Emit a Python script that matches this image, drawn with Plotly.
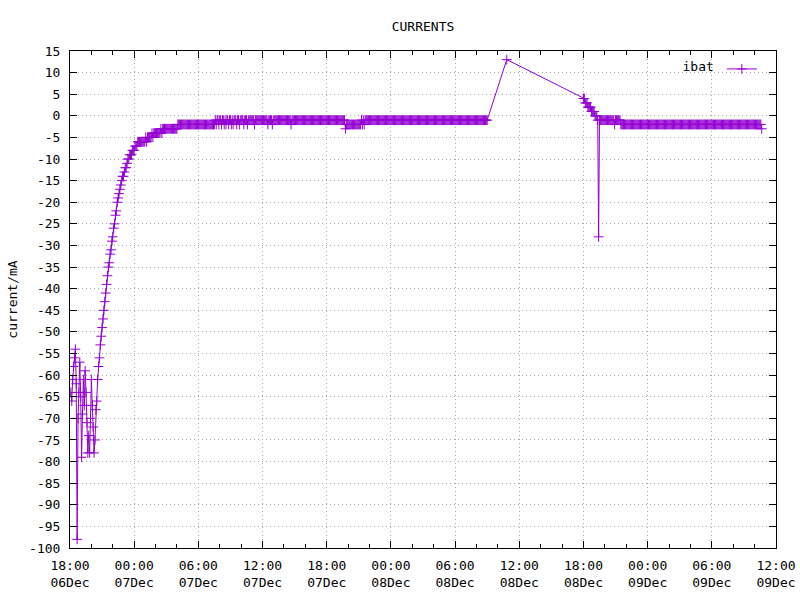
import pandas as pd
import plotly.graph_objects as go

# ---------------- data ----------------
# segment 1: samples every 5 minutes starting 06 Dec 18:05
seg1_start = "2023-12-06 18:05"
seg1_values = [
    -64, -66, -61, -58, -56, -54, -62, -98, -70, -64, -57, -65, -79, -69, -61, -67, -59, -64, -71, -78, -74, -78, -70, -61,
    -67, -72, -78, -75, -68, -66, -61, -58, -56, -53, -51, -49, -47, -45, -43, -41, -39, -37, -35, -34, -32, -31, -29, -28,
    -26, -25, -23, -22, -20, -19, -18, -17, -16, -15, -14, -14, -13, -12, -12, -11, -10, -10, -9, -9, -9, -8, -8, -8,
    -7, -7, -7, -6, -6, -6, -6, -6, -6, -6, -6, -6, -5, -6, -5, -5, -5, -5, -5, -4, -5, -4, -4, -4,
    -4, -4, -4, -4, -4, -3, -4, -3, -3, -3, -3, -3, -3, -3, -3, -3, -3, -3, -3, -3, -3, -3, -3, -3,
    -2, -2, -2, -2, -2, -2, -2, -2, -2, -2, -2, -2, -2, -2, -2, -2, -2, -2, -2, -2, -2, -2, -2, -2,
    -2, -2, -2, -2, -2, -2, -2, -2, -2, -2, -2, -2, -2, -2, -2, -2, -2, -2, -1, -2, -1, -1, -2, -1,
    -1, -2, -1, -1, -2, -1, -2, -1, -1, -2, -1, -1, -2, -1, -2, -1, -1, -1, -2, -1, -1, -2, -1, -1,
    -1, -1, -2, -1, -1, -1, -2, -1, -1, -1, -1, -1, -1, -1, -2, -1, -1, -1, -1, -1, -1, -1, -1, -1,
    -1, -1, -1, -1, -1, -2, -1, -1, -1, -1, -2, -1, -1, -1, -1, -1, -1, -1, -1, -1, -1, -1, -1, -1,
    -1, -1, -1, -1, -1, -1, -1, -2, -1, -1, -1, -1, -1, -1, -1, -1, -1, -1, -1, -1, -1, -1, -1, -1,
    -1, -1, -1, -1, -1, -1, -1, -1, -1, -1, -1, -1, -1, -1, -1, -1, -1, -1, -1, -1, -1, -1, -1, -1,
    -1, -1, -1, -1, -1, -1, -1, -1, -1, -1, -1, -1, -1, -1, -1, -1, -1, -1, -1, -1, -3, -2, -2, -2,
    -2, -2, -2, -2, -2, -2, -2, -2, -2, -2, -2, -2, -2, -2, -1, -2, -1, -2, -1, -1, -1, -1, -1, -1,
    -1, -1, -1, -1, -1, -1, -1, -1, -1, -1, -1, -1, -1, -1, -1, -1, -1, -1, -1, -1, -1, -1, -1, -1,
    -1, -1, -1, -1, -1, -1, -1, -1, -1, -1, -1, -1, -1, -1, -1, -1, -1, -1, -1, -1, -1, -1, -1, -1,
    -1, -1, -1, -1, -1, -1, -1, -1, -1, -1, -1, -1, -1, -1, -1, -1, -1, -1, -1, -1, -1, -1, -1, -1,
    -1, -1, -1, -1, -1, -1, -1, -1, -1, -1, -1, -1, -1, -1, -1, -1, -1, -1, -1, -1, -1, -1, -1, -1,
    -1, -1, -1, -1, -1, -1, -1, -1, -1, -1, -1, -1, -1, -1, -1, -1, -1, -1, -1, -1, -1, -1, -1, -1,
    -1, -1, -1, -1, -1, -1, -1, -1, -1, -1, -1, -1,
]

# segment 2: a single isolated sample
seg2_time = "2023-12-08 10:50"
seg2_values = [13]

# segment 3: samples every 5 minutes starting 08 Dec 18:00
seg3_start = "2023-12-08 18:00"
seg3_values = [
    4, 4, 3, 3, 3, 2, 2, 2, 2, 1, 1, 1, 1, 0, 0, 0, -1, -28, -1, -1, -1, -1, -1, -1,
    -1, -1, -1, -1, -1, -1, -1, -1, -1, -1, -1, -2, -1, -1, -1, -1, -1, -1, -2, -2, -2, -2, -2, -2,
    -2, -2, -2, -2, -2, -2, -2, -2, -2, -2, -2, -2, -2, -2, -2, -2, -2, -2, -2, -2, -2, -2, -2, -2,
    -2, -2, -2, -2, -2, -2, -2, -2, -2, -2, -2, -2, -2, -2, -2, -2, -2, -2, -2, -2, -2, -2, -2, -2,
    -2, -2, -2, -2, -2, -2, -2, -2, -2, -2, -2, -2, -2, -2, -2, -2, -2, -2, -2, -2, -2, -2, -2, -2,
    -2, -2, -2, -2, -2, -2, -2, -2, -2, -2, -2, -2, -2, -2, -2, -2, -2, -2, -2, -2, -2, -2, -2, -2,
    -2, -2, -2, -2, -2, -2, -2, -2, -2, -2, -2, -2, -2, -2, -2, -2, -2, -2, -2, -2, -2, -2, -2, -2,
    -2, -2, -2, -2, -2, -2, -2, -2, -2, -2, -2, -2, -2, -2, -2, -2, -2, -2, -2, -2, -2, -2, -2, -2,
    -2, -2, -2, -2, -2, -2, -2, -2, -3,
]

sample_step = "5min"
series_name = "ibat"

x_range = ["2023-12-06 18:00", "2023-12-09 12:00"]
x_tick_times = [
    "2023-12-06 18:00", "2023-12-07 00:00", "2023-12-07 06:00", "2023-12-07 12:00",
    "2023-12-07 18:00", "2023-12-08 00:00", "2023-12-08 06:00", "2023-12-08 12:00",
    "2023-12-08 18:00", "2023-12-09 00:00", "2023-12-09 06:00", "2023-12-09 12:00",
]
x_tick_labels = [
    "18:00<br>06Dec", "00:00<br>07Dec", "06:00<br>07Dec", "12:00<br>07Dec",
    "18:00<br>07Dec", "00:00<br>08Dec", "06:00<br>08Dec", "12:00<br>08Dec",
    "18:00<br>08Dec", "00:00<br>09Dec", "06:00<br>09Dec", "12:00<br>09Dec",
]
y_range = [-100, 15]
y_tick_values = [-100, -95, -90, -85, -80, -75, -70, -65, -60, -55, -50, -45, -40,
                 -35, -30, -25, -20, -15, -10, -5, 0, 5, 10, 15]
y_tick_labels = ["-100", "-95", "-90", "-85", "-80", "-75", "-70", "-65", "-60", "-55",
                 "-50", "-45", "-40", "-35", "-30", "-25", "-20", "-15", "-10", "-5",
                 "0", "5", "10", "15"]

# ---------------- build ----------------
t1 = pd.date_range(seg1_start, periods=len(seg1_values), freq=sample_step)
t2 = pd.to_datetime([seg2_time])
t3 = pd.date_range(seg3_start, periods=len(seg3_values), freq=sample_step)
times = list(t1) + list(t2) + list(t3)
values = seg1_values + seg2_values + seg3_values

FONT = "DejaVu Sans Mono"
PURPLE = "#9400D3"
GRID = "#a8a8a8"

fig = go.Figure()
fig.add_trace(go.Scatter(
    x=times, y=values, mode="lines+markers", name="",
    line=dict(color=PURPLE, width=1),
    marker=dict(symbol="cross-thin", size=7, color=PURPLE,
                line=dict(color=PURPLE, width=1)),
    showlegend=True,
))

fig.update_layout(
    width=800, height=600, autosize=False,
    margin=dict(l=70, r=24, t=51, b=52, pad=0, autoexpand=False),
    paper_bgcolor="white", plot_bgcolor="white",
    font=dict(family=FONT, size=13, color="black"),
    title=dict(text="CURRENTS", x=0.5, xref="paper", xanchor="center",
               y=1 - 26 / 600, yref="container", yanchor="middle",
               font=dict(family=FONT, size=13, color="black")),
    legend=dict(x=0.988, xanchor="right", y=0.994, yanchor="top",
                bgcolor="rgba(0,0,0,0)", borderwidth=0,
                title=dict(text=series_name, side="left",
                           font=dict(family=FONT, size=13, color="black")),
                font=dict(family=FONT, size=13)),
    showlegend=True,
)

fig.update_xaxes(
    type="date", range=x_range, automargin=False,
    tickmode="array", tickvals=x_tick_times, ticktext=x_tick_labels,
    ticks="inside", ticklen=7, tickcolor="black", tickwidth=1,
    showline=True, linecolor="black", linewidth=1, mirror="ticks",
    showgrid=True, gridcolor=GRID, griddash="1px,3px", gridwidth=1,
    zeroline=False,
    minor=dict(tick0=x_range[0], dtick=7200000, ticks="inside", ticklen=4,
               tickcolor="black", showgrid=False),
    tickfont=dict(family=FONT, size=13, color="black"),
    ticklabelstandoff=5,
)
fig.update_yaxes(
    range=y_range, automargin=False,
    tickmode="array", tickvals=y_tick_values, ticktext=y_tick_labels,
    ticks="inside", ticklen=7, tickcolor="black", tickwidth=1,
    showline=True, linecolor="black", linewidth=1, mirror="ticks",
    showgrid=True, gridcolor=GRID, griddash="1px,3px", gridwidth=1,
    zeroline=False,
    tickfont=dict(family=FONT, size=13, color="black"),
    ticklabelstandoff=6,
    title=dict(text="current/mA", standoff=8,
               font=dict(family=FONT, size=13, color="black")),
)

fig.write_html(
    "out.html",
    config={"displayModeBar": False, "responsive": False},
    post_script="document.body.style.margin='0';document.body.style.overflow='hidden';",
)
